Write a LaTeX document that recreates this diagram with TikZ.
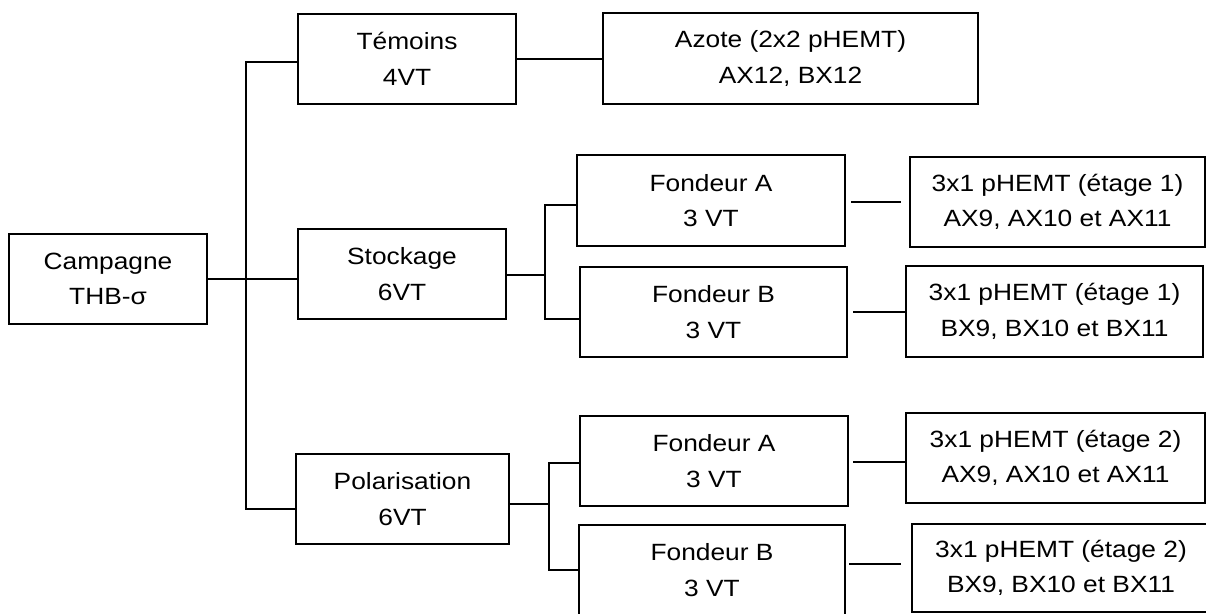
\documentclass[tikz,border=0pt]{standalone}
\usepackage{fontspec}
\setmainfont{Liberation Sans}[FakeStretch=1.12]
\begin{document}
\begin{tikzpicture}[x=1pt,y=-1pt,
  box/.style={draw=black, line width=2.2pt, inner sep=0pt, align=center,
    font=\fontsize{23.5}{35.5}\selectfont},
  link/.style={draw=black, line width=1.5pt}]
\clip (0,0) rectangle (1206,613);
\fill[white] (0,0) rectangle (1206,613);
% level 0
\node[box, minimum width=198pt, minimum height=90pt] (camp) at (108,279) {Campagne\\THB-σ};
% level 1
\node[box, minimum width=218pt, minimum height=90pt] (tem) at (407,59) {Témoins\\4VT};
\node[box, minimum width=208pt, minimum height=90pt] (stock) at (402,274) {Stockage\\6VT};
\node[box, minimum width=213pt, minimum height=90pt] (pol) at (402.5,499) {Polarisation\\6VT};
% level 2
\node[box, minimum width=375pt, minimum height=91pt] (azote) at (790.5,58.5) {Azote (2x2 pHEMT)\\AX12, BX12};
\node[box, minimum width=268pt, minimum height=91pt] (fa1) at (711,200.5) {Fondeur A\\3 VT};
\node[box, minimum width=267pt, minimum height=90pt] (fb1) at (713.5,312) {Fondeur B\\3 VT};
\node[box, minimum width=268pt, minimum height=90pt] (fa2) at (714,461) {Fondeur A\\3 VT};
\node[box, minimum width=266pt, minimum height=90pt] (fb2) at (712,570) {Fondeur B\\3 VT};
% level 3
\node[box, minimum width=295pt, minimum height=90pt] (p1a) at (1057.5,202) {3x1 pHEMT (étage 1)\\AX9, AX10 et AX11};
\node[box, minimum width=297pt, minimum height=91pt] (p1b) at (1054.5,311.5) {3x1 pHEMT (étage 1)\\BX9, BX10 et BX11};
\node[box, minimum width=299pt, minimum height=90pt] (p2a) at (1055.5,458) {3x1 pHEMT (étage 2)\\AX9, AX10 et AX11};
\node[box, minimum width=298pt, minimum height=88pt] (p2b) at (1061,568) {3x1 pHEMT (étage 2)\\BX9, BX10 et BX11};
% trunk
\coordinate (t1) at (246,62);
\coordinate (t3) at (246,509);
\draw[link] (tem.west |- t1) -- (t1) -- (t3) -- (pol.west |- t3);
\draw[link] (camp.east) -- (camp.east -| stock.west);
% temoins -> azote
\draw[link] (tem.east) -- (tem.east -| azote.west);
% stockage branch
\coordinate (s0) at (545,275);
\coordinate (sa) at (545,205);
\coordinate (sb) at (545,319);
\draw[link] (stock.east |- s0) -- (s0);
\draw[link] (fa1.west |- sa) -- (sa) -- (sb) -- (fb1.west |- sb);
% polarisation branch
\coordinate (q0) at (549,504);
\coordinate (qa) at (549,463);
\coordinate (qb) at (549,570);
\draw[link] (pol.east |- q0) -- (q0);
\draw[link] (fa2.west |- qa) -- (qa) -- (qb) -- (fb2.west |- qb);
% fondeur -> pHEMT
\coordinate (ya) at (0,202);
\coordinate (yb) at (0,312);
\coordinate (yc) at (0,462);
\coordinate (yd) at (0,564);
\draw[link, shorten <=5pt, shorten >=8pt] (fa1.east |- ya) -- (p1a.west |- ya);
\draw[link, shorten <=5pt] (fb1.east |- yb) -- (p1b.west |- yb);
\draw[link, shorten <=4pt] (fa2.east |- yc) -- (p2a.west |- yc);
\draw[link, shorten <=3pt, shorten >=10pt] (fb2.east |- yd) -- (p2b.west |- yd);
\end{tikzpicture}
\end{document}
